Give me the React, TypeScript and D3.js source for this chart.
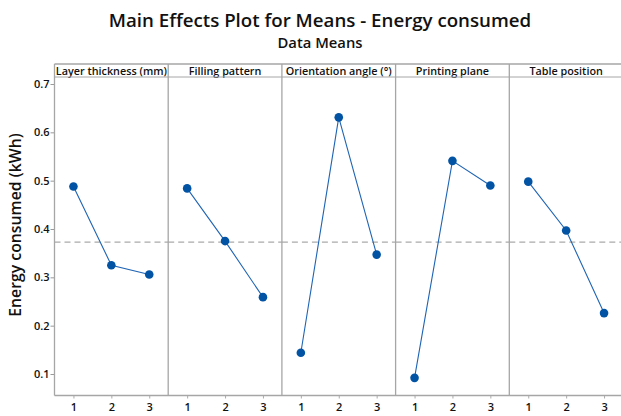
import React, { useEffect, useRef } from 'react';
import * as d3 from 'd3';

const factors = ['Layer thickness (mm)', 'Filling pattern', 'Orientation angle (°)', 'Printing plane', 'Table position'];
const levels = [1, 2, 3];
const layerMeans = [0.488, 0.325, 0.306];
const fillingMeans = [0.484, 0.375, 0.259];
const orientationMeans = [0.144, 0.631, 0.347];
const planeMeans = [0.092, 0.541, 0.490];
const tableMeans = [0.498, 0.397, 0.226];
const grandMean = 0.373;
const yTicks = [0.1, 0.2, 0.3, 0.4, 0.5, 0.6, 0.7];

const seriesList = [layerMeans, fillingMeans, orientationMeans, planeMeans, tableMeans];

const App = () => {
  const svgRef = useRef<SVGSVGElement>(null);

  useEffect(() => {
    const width = 621;
    const height = 416;
    const left = 54.5;
    const top = 64;
    const headerH = 13;
    const bottom = 395.5;
    const panelW = 113.7;
    const font = '"Open Sans", "Noto Sans", sans-serif';

    const svg = d3.select(svgRef.current)
      .attr('width', width)
      .attr('height', height);
    svg.selectAll('*').remove();

    // Titles
    svg.append('text')
      .attr('x', 320)
      .attr('y', 27)
      .attr('text-anchor', 'middle')
      .attr('font-family', font)
      .attr('font-weight', 600)
      .attr('font-size', 18.7)
      .attr('fill', '#111')
      .text('Main Effects Plot for Means - Energy consumed');

    svg.append('text')
      .attr('x', 320)
      .attr('y', 48)
      .attr('text-anchor', 'middle')
      .attr('font-family', font)
      .attr('font-weight', 600)
      .attr('font-size', 14.8)
      .attr('fill', '#111')
      .text('Data Means');

    // Y axis title
    svg.append('text')
      .attr('transform', `translate(21,225) rotate(-90)`)
      .attr('text-anchor', 'middle')
      .attr('font-family', font)
      .attr('font-weight', 600)
      .attr('font-size', 15.8)
      .attr('fill', '#111')
      .text('Energy consumed (kWh)');

    const yScale = d3.scaleLinear()
      .domain([0.1, 0.7])
      .range([374, 84]);

    // Y axis ticks
    const yAxis = svg.append('g')
      .attr('transform', `translate(${left},0)`)
      .call(d3.axisLeft(yScale).tickValues(yTicks).tickFormat(d3.format('.1f')).tickSize(4).tickSizeOuter(0));
    yAxis.select('.domain').remove();
    yAxis.selectAll('line').attr('stroke', '#999');
    yAxis.selectAll('text')
      .attr('font-family', font)
      .attr('font-size', 11)
      .attr('font-weight', 600)
      .attr('fill', '#111')
      .attr('x', -5);

    seriesList.forEach((vals, i) => {
      const x0 = left + i * panelW;
      const xScale = d3.scaleLinear().domain([0.5, 3.5]).range([x0, x0 + panelW]);
      const g = svg.append('g');

      // Header text
      g.append('text')
        .attr('x', x0 + panelW / 2)
        .attr('y', top + 10.5)
        .attr('text-anchor', 'middle')
        .attr('font-family', font)
        .attr('font-weight', 600)
        .attr('font-size', 10.8)
        .attr('fill', '#111')
        .text(factors[i]);

      // Dashed mean line
      g.append('line')
        .attr('x1', x0)
        .attr('x2', x0 + panelW)
        .attr('y1', yScale(grandMean))
        .attr('y2', yScale(grandMean))
        .attr('stroke', '#aaa')
        .attr('stroke-width', 1.3)
        .attr('stroke-dasharray', '6,4');

      // X ticks
      const xAxis = g.append('g')
        .attr('transform', `translate(0,${bottom})`)
        .call(d3.axisBottom(xScale).tickValues(levels).tickFormat(d3.format('d')).tickSize(3).tickSizeOuter(0));
      xAxis.select('.domain').remove();
      xAxis.selectAll('line').attr('stroke', '#aaa');
      xAxis.selectAll('text')
        .attr('font-family', font)
        .attr('font-size', 11)
        .attr('font-weight', 600)
        .attr('fill', '#111')
        .attr('y', 8);

      const line = d3.line<number>()
        .x((d, j) => xScale(levels[j]))
        .y(d => yScale(d));

      g.append('path')
        .datum(vals)
        .attr('d', line)
        .attr('fill', 'none')
        .attr('stroke', '#1f64b4')
        .attr('stroke-width', 1.1);

      g.selectAll('circle')
        .data(vals)
        .enter()
        .append('circle')
        .attr('cx', (d, j) => xScale(levels[j]))
        .attr('cy', d => yScale(d))
        .attr('r', 4.3)
        .attr('fill', '#0253a4');
    });

    // Panel frame lines
    const frame = svg.append('g').attr('stroke', '#a6a6a6').attr('stroke-width', 1.3);
    frame.append('line').attr('x1', left).attr('x2', width).attr('y1', top).attr('y2', top);
    frame.append('line').attr('x1', left).attr('x2', width).attr('y1', top + headerH).attr('y2', top + headerH).attr('stroke-width', 1);
    frame.append('line').attr('x1', left).attr('x2', width).attr('y1', bottom).attr('y2', bottom);
    d3.range(0, 5).forEach(i => {
      frame.append('line')
        .attr('x1', left + i * panelW)
        .attr('x2', left + i * panelW)
        .attr('y1', top)
        .attr('y2', bottom);
    });
  }, []);

  return (
    <svg ref={svgRef} width={621} height={416} style={{ position: 'absolute', left: 0, top: 0 }}></svg>
  );
};

export default App;
